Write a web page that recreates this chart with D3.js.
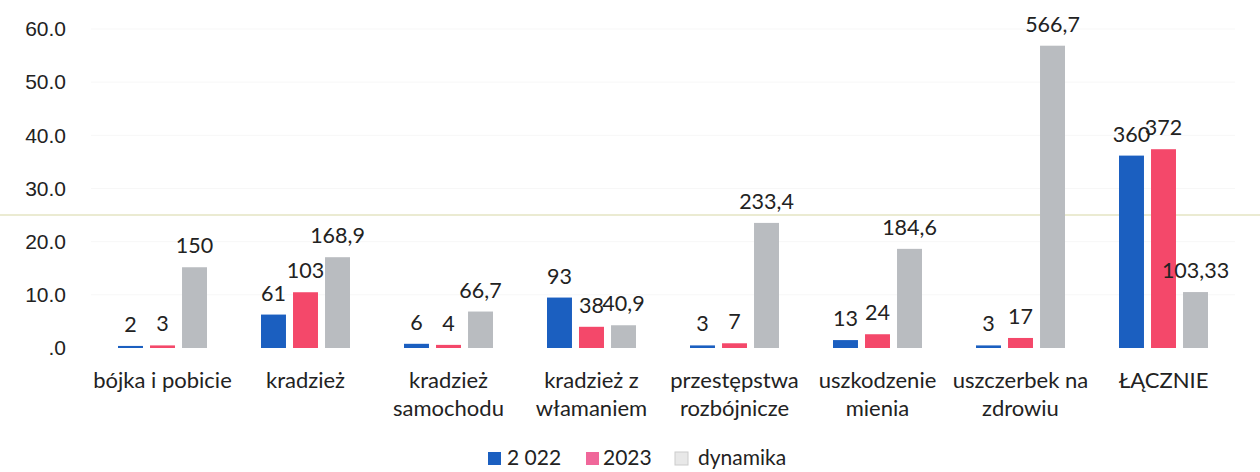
<!DOCTYPE html>
<html>
<head>
<meta charset="utf-8">
<script src="https://cdn.jsdelivr.net/npm/d3@7"></script>
<style>
  body { margin: 0; background: #fff; }
  svg { display: block; font-family: Lato, "Noto Sans", sans-serif; }
</style>
</head>
<body>
<svg id="chart" width="1260" height="472"></svg>
<script>
// categories (line breaks as in the original labels)
var categories = ["bójka i pobicie", "kradzież", "kradzież\nsamochodu", "kradzież z\nwłamaniem",
  "przestępstwa\nrozbójnicze", "uszkodzenie\nmienia", "uszczerbek na\nzdrowiu", "ŁĄCZNIE"];
var series = ["2 022", "2023", "dynamika"];
// counts (plotted /10 on the axis)
var values2022 = [2, 61, 6, 93, 3, 13, 3, 360];
var values2023 = [3, 103, 4, 38, 7, 24, 17, 372];
// dynamics in % (plotted /10 on the axis)
var dynamika = [150, 168.9, 66.7, 40.9, 233.4, 184.6, 566.7, 103.33];
var yTicks = [0, 10, 20, 30, 40, 50, 60];

var colors = ["#1b5fc0", "#f4486a", "#b9bcc0"];

var svg = d3.select("#chart");

var x = d3.scaleBand().domain(d3.range(categories.length)).range([91, 1235]);
var xSub = d3.scaleBand().domain(d3.range(3)).range([0, 89]).paddingInner(0.22);
var subOffset = (x.bandwidth() - 89) / 2;
var y = d3.scaleLinear().domain([0, 60]).range([348, 29]);

// faint grid
svg.append("g").selectAll("line").data(yTicks.slice(1)).join("line")
  .attr("x1", 91).attr("x2", 1235)
  .attr("y1", function(d){ return y(d); }).attr("y2", function(d){ return y(d); })
  .attr("stroke", "#f7f7f7");

// scan line across the page
svg.append("line").attr("x1", 0).attr("x2", 1260).attr("y1", 215).attr("y2", 215)
  .attr("stroke", "#ebebd2").attr("stroke-width", 2);

// y axis
var yAxis = d3.axisLeft(y).tickValues(yTicks).tickSize(0).tickPadding(0)
  .tickFormat(function(d){ return d === 0 ? ".0" : d3.format(".1f")(d); });
var gy = svg.append("g").attr("transform", "translate(66,0)").call(yAxis);
gy.select(".domain").remove();
gy.selectAll("text").attr("font-size", 21).attr("fill", "#222").attr("font-family", "inherit");

var rows = categories.map(function(c, i){
  return [values2022[i] / 10, values2023[i] / 10, dynamika[i] / 10];
});
var labels = categories.map(function(c, i){
  return [values2022[i], values2023[i], dynamika[i]].map(function(v){ return String(v).replace(".", ","); });
});

var groups = svg.append("g").selectAll("g").data(rows).join("g")
  .attr("transform", function(d, i){ return "translate(" + (x(i) + subOffset) + ",0)"; });

groups.selectAll("rect").data(function(d){ return d; }).join("rect")
  .attr("x", function(d, j){ return xSub(j); })
  .attr("width", xSub.bandwidth())
  .attr("y", function(d){ return y(d) - 1; })
  .attr("height", function(d){ return y(0) - y(d) + 1; })
  .attr("fill", function(d, j){ return colors[j]; });

groups.selectAll("text").data(function(d, i){ return d.map(function(v, j){ return {v: v, t: labels[i][j]}; }); })
  .join("text")
  .attr("x", function(d, j){ return xSub(j) + xSub.bandwidth() / 2; })
  .attr("y", function(d){ return y(d.v) - 15; })
  .attr("text-anchor", "middle")
  .attr("font-size", 21.5)
  .attr("fill", "#222")
  .text(function(d){ return d.t; });

// category labels
var cat = svg.append("g").selectAll("text").data(categories).join("text")
  .attr("x", function(d, i){ return x(i) + x.bandwidth() / 2; })
  .attr("y", 388)
  .attr("text-anchor", "middle")
  .attr("font-size", 22)
  .attr("fill", "#222");
cat.selectAll("tspan").data(function(d){ return d.split("\n"); }).join("tspan")
  .attr("x", function(){ return this.parentNode.getAttribute("x"); })
  .attr("dy", function(d, k){ return k === 0 ? 0 : 28; })
  .text(function(d){ return d; });

// legend
var legendX = [488, 586, 675];
var legend = svg.append("g").selectAll("g").data(series).join("g")
  .attr("transform", function(d, i){ return "translate(" + legendX[i] + ",452)"; });
legend.append("rect").attr("width", 13).attr("height", 13)
  .attr("fill", function(d, i){ return i === 1 ? "#f0679a" : i === 2 ? "#e8e8e8" : colors[0]; })
  .attr("stroke", function(d, i){ return i === 2 ? "#cccccc" : "none"; });
legend.append("text").attr("x", function(d, i){ return i === 2 ? 23 : (i === 0 ? 19 : 17); }).attr("y", 13)
  .attr("font-size", 21).attr("fill", "#222")
  .text(function(d){ return d; });
</script>
</body>
</html>
